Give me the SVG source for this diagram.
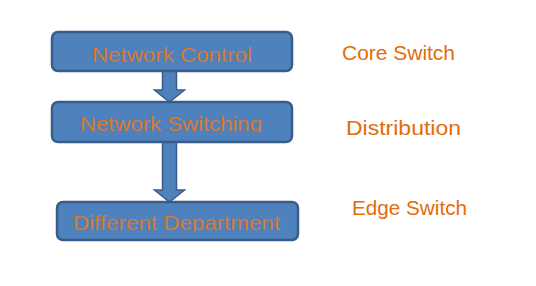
<svg xmlns="http://www.w3.org/2000/svg" width="536" height="286" viewBox="0 0 536 286">
<style>
.box{fill:#4F81BD;stroke:#385D8A;stroke-width:2.5}
.arr{fill:#4F81BD;stroke:#385D8A;stroke-width:1.5}
.t{font-family:"Liberation Sans",Arial,sans-serif;font-size:21px;fill:#E46C0A}
.bt{font-family:"Liberation Sans",Arial,sans-serif;font-size:20px;fill:#D9782E}
</style>
<defs>
<clipPath id="c2"><rect x="52" y="102" width="240" height="30.5"/></clipPath>
<clipPath id="c3"><rect x="57" y="202" width="241" height="29.5"/></clipPath>
</defs>
<rect width="536" height="286" fill="#FFFFFF"/>
<g id="connectors">
<path class="arr" d="M162.5,71 H176.5 V90 H184.5 L169.5,102 L154.5,90 H162.5 Z"/>
<path class="arr" d="M162.5,142 H176.5 V190 H184.5 L169.5,202 L154.5,190 H162.5 Z"/>
</g>
<g id="node-control">
<rect class="box" x="52" y="32" width="240" height="39" rx="6"/>
<text class="bt" x="92" y="62" textLength="160" lengthAdjust="spacingAndGlyphs">Network Control</text>
</g>
<g id="node-switching">
<rect class="box" x="52" y="102" width="240" height="40" rx="6"/>
<text class="bt" x="80" y="131" textLength="182" lengthAdjust="spacingAndGlyphs" clip-path="url(#c2)">Network Switching</text>
</g>
<g id="node-department">
<rect class="box" x="57" y="202" width="241" height="38" rx="6"/>
<text class="bt" x="73" y="230" textLength="207" lengthAdjust="spacingAndGlyphs" clip-path="url(#c3)">Different Department</text>
</g>
<g id="label-core">
<text class="t" x="342" y="60" textLength="113" lengthAdjust="spacingAndGlyphs">Core Switch</text>
</g>
<g id="label-distribution">
<text class="t" x="346" y="135" textLength="115" lengthAdjust="spacingAndGlyphs">Distribution</text>
</g>
<g id="label-edge">
<text class="t" x="352" y="215" textLength="115" lengthAdjust="spacingAndGlyphs">Edge Switch</text>
</g>
</svg>
